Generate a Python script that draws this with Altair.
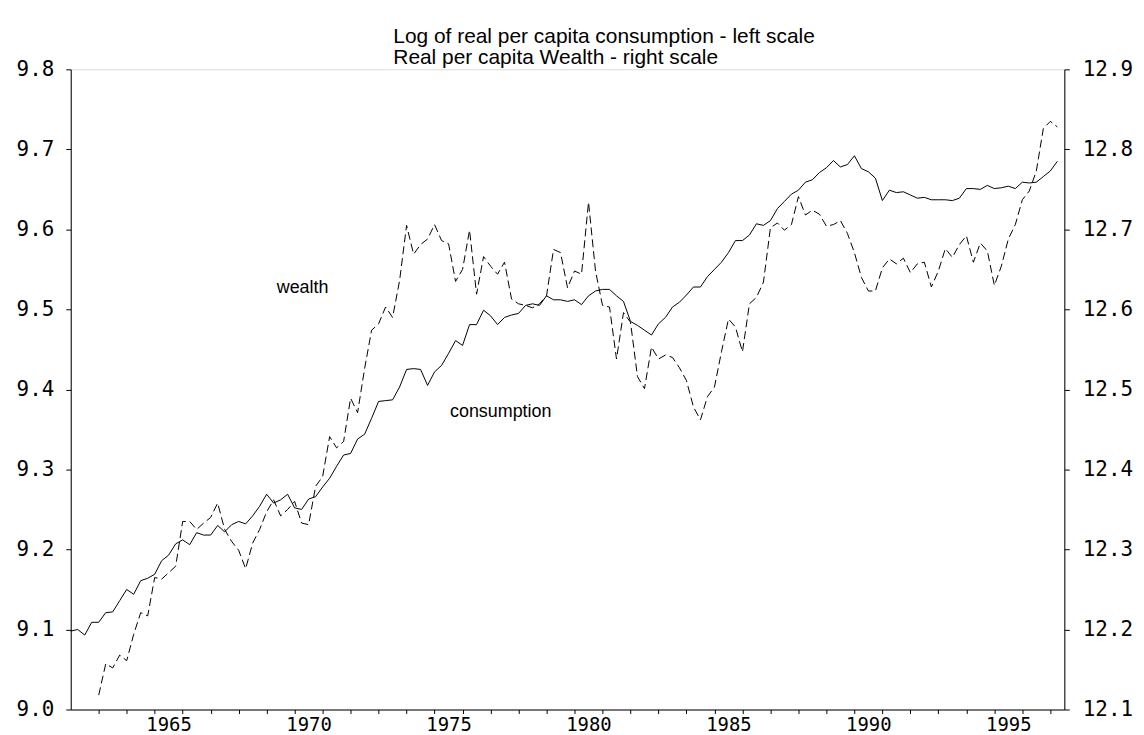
import altair as alt
import pandas as pd

# quarterly observations, first quarter = 1962Q1
start_year = 1962

consumption = [
    9.098, 9.100, 9.093, 9.109, 9.109, 9.121, 9.122, 9.136, 9.150, 9.144,
    9.161, 9.164, 9.169, 9.186, 9.193, 9.207, 9.212, 9.206, 9.221, 9.218,
    9.218, 9.230, 9.222, 9.231, 9.235, 9.232, 9.242, 9.254, 9.269, 9.258,
    9.262, 9.269, 9.252, 9.250, 9.263, 9.266, 9.278, 9.289, 9.304, 9.318,
    9.320, 9.338, 9.344, 9.364, 9.385, 9.386, 9.387, 9.403, 9.425, 9.426,
    9.425, 9.405, 9.422, 9.430, 9.445, 9.461, 9.455, 9.481, 9.481, 9.499,
    9.492, 9.481, 9.490, 9.493, 9.495, 9.505, 9.507, 9.505, 9.517, 9.512,
    9.512, 9.510, 9.512, 9.506, 9.517, 9.523, 9.525, 9.525, 9.517, 9.510,
    9.485, 9.480, 9.474, 9.468, 9.482, 9.490, 9.503, 9.509, 9.518, 9.528,
    9.528, 9.541, 9.550, 9.559, 9.571, 9.586, 9.586, 9.593, 9.607, 9.605,
    9.611, 9.626, 9.635, 9.644, 9.649, 9.659, 9.662, 9.671, 9.677, 9.686,
    9.678, 9.681, 9.692, 9.676, 9.672, 9.664, 9.636, 9.649, 9.646, 9.647,
    9.643, 9.639, 9.640, 9.637, 9.637, 9.637, 9.636, 9.639, 9.651, 9.651,
    9.650, 9.655, 9.651, 9.652, 9.654, 9.651, 9.659, 9.658, 9.659, 9.666,
    9.673, 9.685,
]

# wealth starts at 1963Q1
wealth_start_index = 4
wealth = [
    12.118, 12.157, 12.152, 12.168, 12.161, 12.194, 12.221, 12.217, 12.265, 12.263,
    12.271, 12.279, 12.335, 12.335, 12.325, 12.333, 12.340, 12.358, 12.325, 12.310,
    12.299, 12.276, 12.308, 12.325, 12.347, 12.362, 12.342, 12.350, 12.360, 12.333,
    12.331, 12.379, 12.391, 12.441, 12.427, 12.435, 12.489, 12.471, 12.526, 12.574,
    12.582, 12.603, 12.590, 12.636, 12.705, 12.669, 12.681, 12.688, 12.706, 12.686,
    12.682, 12.635, 12.650, 12.699, 12.619, 12.666, 12.654, 12.644, 12.659, 12.613,
    12.607, 12.605, 12.602, 12.607, 12.617, 12.675, 12.671, 12.627, 12.648, 12.644,
    12.734, 12.648, 12.605, 12.603, 12.538, 12.596, 12.584, 12.516, 12.501, 12.553,
    12.538, 12.543, 12.540, 12.527, 12.511, 12.478, 12.462, 12.491, 12.503, 12.547,
    12.588, 12.578, 12.547, 12.607, 12.615, 12.634, 12.702, 12.708, 12.699, 12.706,
    12.741, 12.718, 12.724, 12.719, 12.704, 12.706, 12.711, 12.695, 12.671, 12.640,
    12.623, 12.623, 12.652, 12.663, 12.657, 12.664, 12.646, 12.657, 12.659, 12.628,
    12.648, 12.676, 12.665, 12.681, 12.692, 12.659, 12.683, 12.673, 12.630, 12.654,
    12.688, 12.706, 12.737, 12.748, 12.773, 12.826, 12.835, 12.828,
]

left_ticks = [9.0, 9.1, 9.2, 9.3, 9.4, 9.5, 9.6, 9.7, 9.8]
right_ticks = [12.1, 12.2, 12.3, 12.4, 12.5, 12.6, 12.7, 12.8, 12.9]
year_ticks = list(range(1963, 1998))

annot_text = ["wealth", "consumption"]
annot_year = [1969.36, 1975.55]
annot_val = [9.527, 9.372]

title_lines = [
    "Log of real per capita consumption - left scale",
    "Real per capita Wealth - right scale",
]

cons_df = pd.DataFrame({
    "year": [start_year + i / 4 for i in range(len(consumption))],
    "cons": consumption,
})
wealth_df = pd.DataFrame({
    "year": [start_year + (wealth_start_index + i) / 4 for i in range(len(wealth))],
    "wealth": wealth,
})
annot_df = pd.DataFrame({"year": annot_year, "cons": annot_val, "label": annot_text})

tick_font = "DejaVu Sans Mono"
text_font = "Liberation Sans, Arial, sans-serif"

x_enc = alt.X(
    "year:Q",
    scale=alt.Scale(domain=[1962, 1997.5], nice=False, zero=False),
    axis=alt.Axis(
        values=year_ticks,
        labelExpr="datum.value % 5 == 0 ? datum.value : ''",
        labelOffset=14,
        tickSize=4,
        labelPadding=2,
        grid=False,
        title=None,
        labelFont=tick_font,
        labelFontSize=19,
        labelColor="black",
        domainColor="black",
        tickColor="black",
        labelFlush=False,
        labelOverlap=False,
        labelBound=False,
    ),
)

cons_line = alt.Chart(cons_df).mark_line(color="black", strokeWidth=1).encode(
    x=x_enc,
    y=alt.Y(
        "cons:Q",
        scale=alt.Scale(domain=[9.0, 9.8], nice=False, zero=False),
        axis=alt.Axis(
            values=left_ticks,
            format=".1f",
            orient="left",
            tickSize=5,
            labelPadding=12,
            grid=False,
            title=None,
            labelFont=tick_font,
            labelFontSize=21,
            labelColor="black",
            domainColor="black",
            tickColor="black",
            labelFlush=False,
        ),
    ),
)

annot = alt.Chart(annot_df).mark_text(
    align="left", baseline="middle", font=text_font, fontSize=18, color="black"
).encode(
    x=x_enc,
    y=alt.Y("cons:Q"),
    text="label:N",
)

wealth_line = alt.Chart(wealth_df).mark_line(
    color="black", strokeWidth=1, strokeDash=[8, 4]
).encode(
    x=x_enc,
    y=alt.Y(
        "wealth:Q",
        scale=alt.Scale(domain=[12.1, 12.9], nice=False, zero=False),
        axis=alt.Axis(
            values=right_ticks,
            format=".1f",
            orient="right",
            tickSize=5,
            labelPadding=13,
            grid=False,
            title=None,
            labelFont=tick_font,
            labelFontSize=21,
            labelColor="black",
            domainColor="black",
            tickColor="black",
            labelFlush=False,
        ),
    ),
)

chart = (
    alt.layer(alt.layer(cons_line, annot), wealth_line)
    .resolve_scale(y="independent")
    .properties(
        width=998,
        height=643,
        autosize=alt.AutoSizeParams(type="none"),
        padding={"left": 63, "top": 60, "right": 72, "bottom": 28},
        title=alt.TitleParams(
            text=title_lines,
            anchor="start",
            frame="group",
            dx=324,
            offset=-10,
            font=text_font,
            fontSize=21,
            lineHeight=21,
            fontWeight="normal",
            color="black",
        ),
    )
    .configure_view(stroke=None)
    .configure_axisX(labelOverlap=False)
    .configure(background="white")
)

chart.save("out.html", embed_options={"renderer": "svg", "actions": False})
